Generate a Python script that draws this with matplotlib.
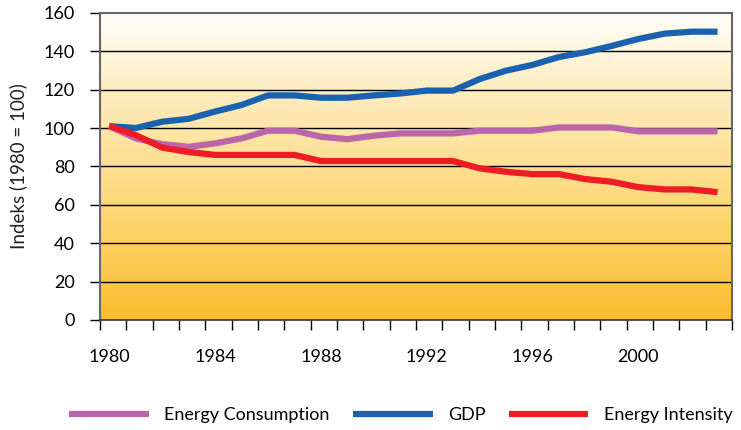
import numpy as np
import matplotlib
matplotlib.use('Agg')
import matplotlib.pyplot as plt
from matplotlib.colors import LinearSegmentedColormap

plt.rcParams['font.family'] = ['Lato', 'DejaVu Sans']

years = list(range(1980, 2004))
energy_consumption = [101, 94.6, 91.6, 90.2, 92, 94.6, 98.6, 98.6, 95.5, 94.2, 96, 97.2,
                      97.2, 97.2, 98.6, 98.6, 98.6, 100.3, 100.3, 100.3, 98.3, 98.3, 98.3, 98.3]
gdp = [101, 100, 103.3, 104.8, 108.6, 112, 117, 117, 115.8, 115.8, 117, 118,
       119.5, 119.5, 125.5, 129.9, 132.9, 137, 139.5, 142.8, 146.4, 149.2, 150.2, 150.2]
energy_intensity = [101, 96.3, 89.8, 87.5, 86, 86, 86, 86, 82.8, 82.8, 82.8, 82.8,
                    82.8, 82.8, 79, 77.2, 76, 76, 73.4, 72, 69.2, 68, 68, 66.6]
year_labels = [1980, 1984, 1988, 1992, 1996, 2000]
y_ticks = [0, 20, 40, 60, 80, 100, 120, 140, 160]

fig = plt.figure(figsize=(7.41, 4.30), dpi=100)
ax = fig.add_axes([0.135, 0.256, 0.853, 0.714])

x0, x1 = 1979.65, 2003.55
# gradient background
bg = LinearSegmentedColormap.from_list('bg', [(0, '#FBBC2E'), (0.35, '#FDD773'),
                                              (0.75, '#FEEDC2'), (1, '#FFFEFA')])
grad = np.linspace(0, 1, 256).reshape(-1, 1)
ax.imshow(grad, cmap=bg, origin='lower', aspect='auto',
          extent=[x0, x1, 0, 160], zorder=0)

for v in y_ticks[1:-1]:
    ax.axhline(v, color='black', lw=1.0, zorder=1)

ax.plot(years, energy_consumption, color='#BB66AA', lw=4.5, zorder=3,
        solid_capstyle='butt', label='Energy Consumption')
ax.plot(years, gdp, color='#1A62B0', lw=4.5, zorder=4,
        solid_capstyle='butt', label='GDP')
ax.plot(years, energy_intensity, color='#EE1C24', lw=4.5, zorder=5,
        solid_capstyle='butt', label='Energy Intensity')

ax.set_xlim(x0, x1)
ax.set_ylim(0, 160)
ax.set_yticks(y_ticks)
ax.tick_params(axis='y', length=7, width=1, labelsize=13, pad=11, color='black')
ax.set_xticks(year_labels)
ax.set_xticklabels([str(y) for y in year_labels])
ax.tick_params(axis='x', which='major', length=0, labelsize=13, pad=21)
ax.set_xticks(np.linspace(x0, x1, 25), minor=True)
ax.tick_params(axis='x', which='minor', length=7, width=1, color='black')

for side in ['top', 'right', 'left']:
    ax.spines[side].set_color('#666666')
    ax.spines[side].set_linewidth(1.5)
ax.spines['bottom'].set_color('#333333')
ax.spines['bottom'].set_linewidth(1.2)

ax.set_ylabel('Indeks (1980 = 100)', fontsize=13.5, labelpad=12, color='#222222')

fig.legend(loc='center', bbox_to_anchor=(0.541, 0.035), ncol=3, frameon=False,
           fontsize=13, handlelength=4.4, handletextpad=0.85, columnspacing=1.3)

fig.savefig('out.png', dpi=100)
